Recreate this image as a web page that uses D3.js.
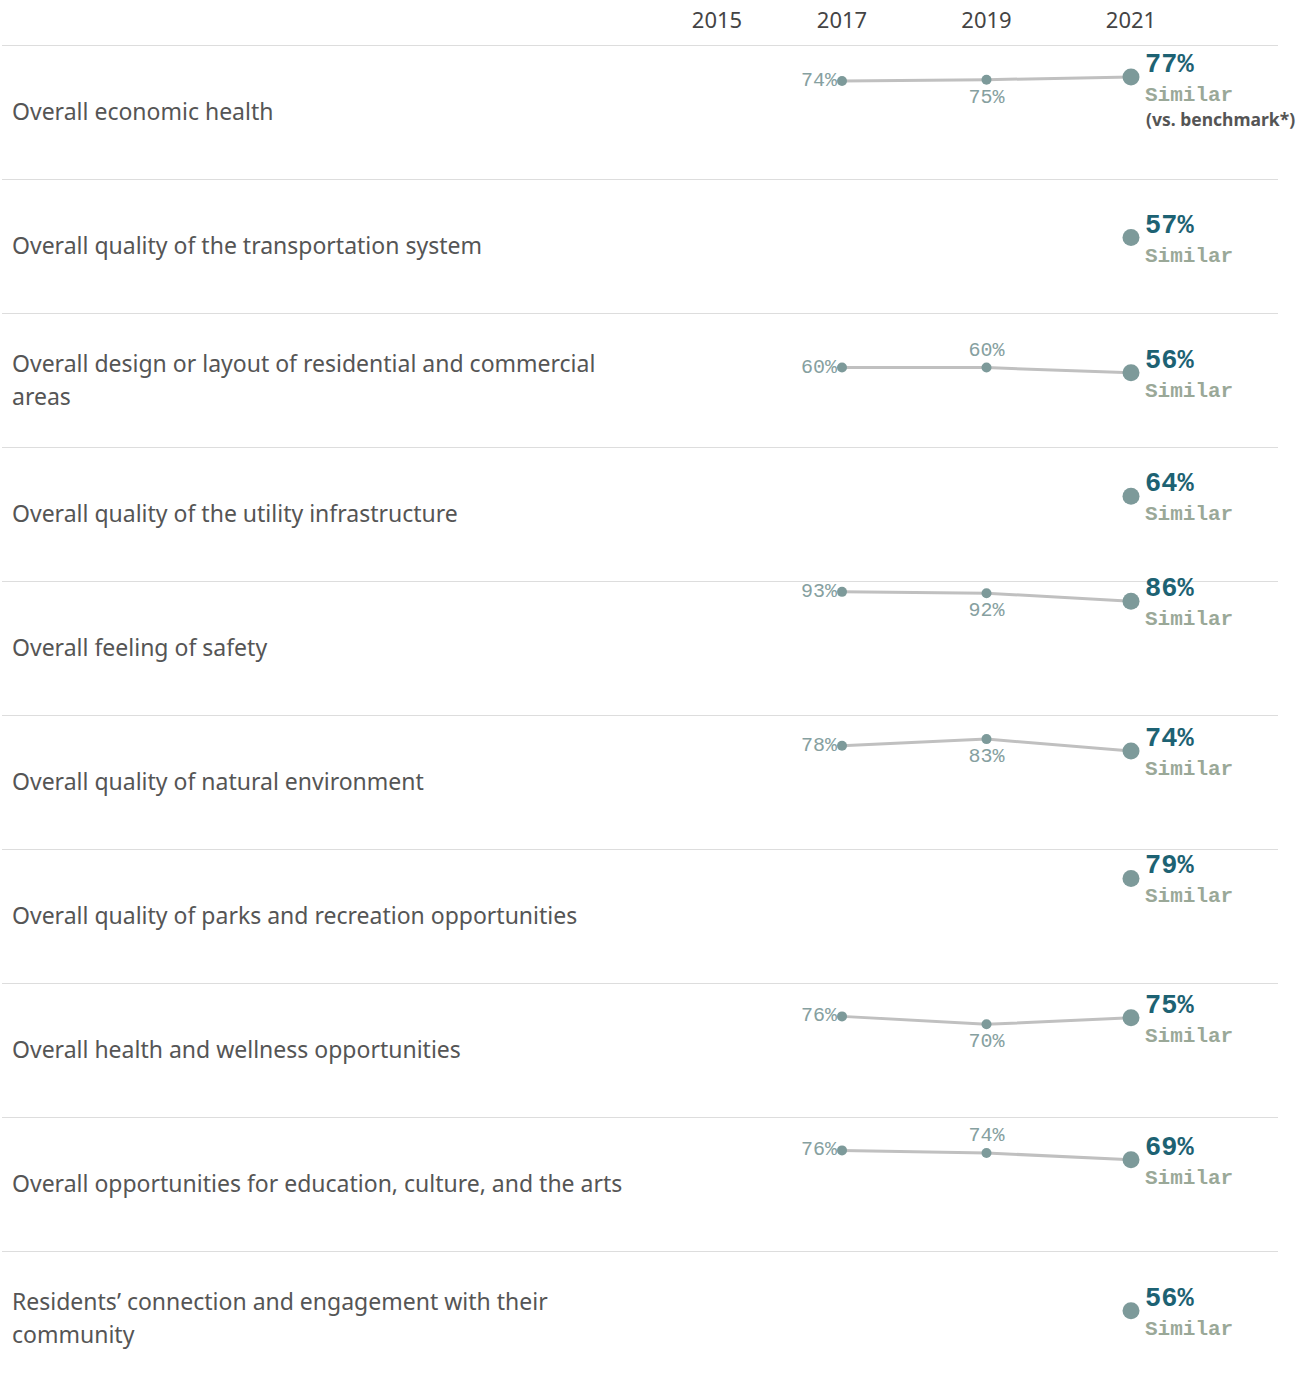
<!DOCTYPE html>
<html lang="en">
<head>
<meta charset="utf-8">
<title>Ratings trend</title>
<script src="https://d3js.org/d3.v7.min.js"></script>
<style>
  body { margin: 0; background: #fff; }
  .label { font-family: "Noto Sans", sans-serif; font-size: 23px; fill: #555; }
  .year { font-family: "Noto Sans", sans-serif; font-size: 22px; fill: #444; }
  .small { font-family: "Liberation Mono", monospace; font-size: 20px; fill: #86a0a0; }
  .big { font-family: "Liberation Mono", monospace; font-size: 27px; font-weight: bold; fill: #1d6273; }
  .cmp { font-family: "Liberation Mono", monospace; font-size: 21px; font-weight: bold; fill: #9aa898; }
  .note { font-family: "Noto Sans", sans-serif; font-size: 17.5px; font-weight: bold; fill: #555; }
</style>
</head>
<body>
<div id="chart"></div>
<script>
// data
var years = [2015, 2017, 2019, 2021];
var categories = [
  "Overall economic health",
  "Overall quality of the transportation system",
  "Overall design or layout of residential and commercial areas",
  "Overall quality of the utility infrastructure",
  "Overall feeling of safety",
  "Overall quality of natural environment",
  "Overall quality of parks and recreation opportunities",
  "Overall health and wellness opportunities",
  "Overall opportunities for education, culture, and the arts",
  "Residents\u2019 connection and engagement with their community"
];
var v2017 = [74, null, 60, null, 93, 78, null, 76, 76, null];
var v2019 = [75, null, 60, null, 92, 83, null, 70, 74, null];
var v2021 = [77, 57, 56, 64, 86, 74, 79, 75, 69, 56];
var comparison = ["Similar", "Similar", "Similar", "Similar", "Similar", "Similar", "Similar", "Similar", "Similar", "Similar"];
var midLabelPos = ["below", null, "above", null, "below", "below", null, "below", "above", null];

var w = 1303, h = 1380;
var topY = 45, rowH = 134;

var svg = d3.select("#chart").append("svg")
  .attr("width", w)
  .attr("height", h);

var x = d3.scaleLinear().domain([2017, 2021]).range([842, 1131]);
var row = d3.scaleBand().domain(d3.range(categories.length))
  .range([topY, topY + rowH * categories.length]);
var y = d3.scaleLinear().domain([0, 100]).range([rowH, 1.6]);

// header
svg.selectAll(".year").data(years).enter().append("text")
  .attr("class", "year")
  .attr("x", function(d) { return Math.max(x(d), 717); })
  .attr("y", 28)
  .attr("text-anchor", "middle")
  .text(function(d) { return d; });

// separators
svg.selectAll(".sep").data(d3.range(categories.length)).enter().append("line")
  .attr("x1", 2).attr("x2", 1278)
  .attr("y1", function(d) { return row(d) + 0.5; })
  .attr("y2", function(d) { return row(d) + 0.5; })
  .attr("stroke", "#ddd")
  .attr("stroke-width", 1);

var rows = svg.selectAll(".row").data(categories).enter().append("g")
  .attr("transform", function(d, i) { return "translate(0," + row(i) + ")"; });

// wrap row labels
rows.append("text")
  .attr("class", "label")
  .each(function(d) {
    var t = d3.select(this);
    var words = d.split(" "), lines = [], line = [];
    var tmp = t.append("tspan");
    words.forEach(function(wd) {
      line.push(wd);
      tmp.text(line.join(" "));
      if (tmp.node().getComputedTextLength() > 640 && line.length > 1) {
        line.pop();
        lines.push(line.join(" "));
        line = [wd];
      }
    });
    lines.push(line.join(" "));
    tmp.remove();
    var lh = 33;
    var y0 = rowH / 2 + 8 - (lines.length - 1) * lh / 2;
    lines.forEach(function(l, k) {
      t.append("tspan").attr("x", 12).attr("y", y0 + k * lh).text(l);
    });
  });

var line = d3.line()
  .defined(function(d) { return d.v != null; })
  .x(function(d) { return x(d.yr); })
  .y(function(d) { return y(d.v); });

rows.each(function(c, i) {
  var g = d3.select(this);
  var pts = [
    { yr: 2017, v: v2017[i] },
    { yr: 2019, v: v2019[i] },
    { yr: 2021, v: v2021[i] }
  ];
  var have = pts.filter(function(p) { return p.v != null; });

  if (have.length > 1) {
    g.append("path")
      .attr("d", line(have))
      .attr("fill", "none")
      .attr("stroke", "#c0c0c0")
      .attr("stroke-width", 3);
  }

  have.forEach(function(p) {
    g.append("circle")
      .attr("cx", x(p.yr)).attr("cy", y(p.v))
      .attr("r", p.yr === 2021 ? 8.5 : 5)
      .attr("fill", "#7d9a9a");
  });

  if (v2017[i] != null) {
    g.append("text").attr("class", "small")
      .attr("x", x(2017) - 5).attr("y", y(v2017[i]) + 5)
      .attr("text-anchor", "end")
      .text(v2017[i] + "%");
  }
  if (v2019[i] != null) {
    var below = midLabelPos[i] === "below";
    g.append("text").attr("class", "small")
      .attr("x", x(2019)).attr("y", y(v2019[i]) + (below ? 23 : -12))
      .attr("text-anchor", "middle")
      .text(v2019[i] + "%");
  }

  var y21 = y(v2021[i]);
  g.append("text").attr("class", "big")
    .attr("x", x(2021) + 14).attr("y", y21 - 5)
    .text(v2021[i] + "%");
  g.append("text").attr("class", "cmp")
    .attr("x", x(2021) + 14).attr("y", y21 + 24)
    .text(comparison[i]);
  if (i === 0) {
    g.append("text").attr("class", "note")
      .attr("x", x(2021) + 15).attr("y", y21 + 49)
      .text("(vs. benchmark*)");
  }
});
</script>
</body>
</html>
